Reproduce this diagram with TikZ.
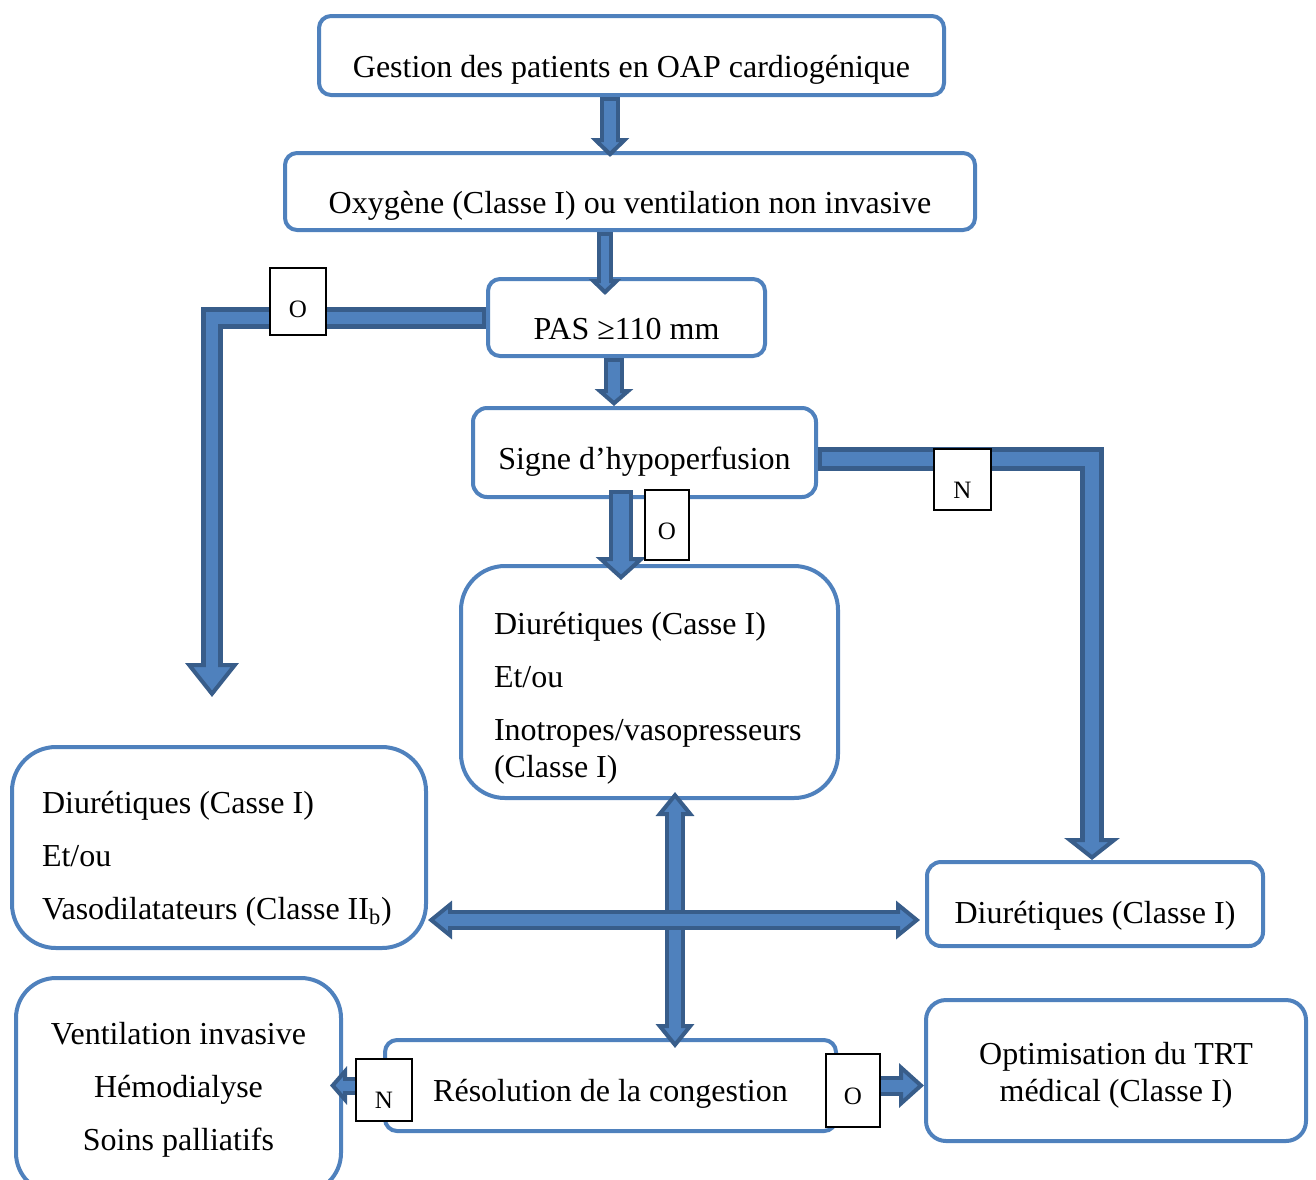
\documentclass[tikz,border=0pt]{standalone}
\usepackage{fontspec}
\setmainfont{Liberation Serif}
\usetikzlibrary{arrows.meta, calc}
\definecolor{boxblue}{HTML}{4F81BD}
\definecolor{arrblue}{HTML}{4F81BD}
\definecolor{arrdark}{HTML}{385D8A}

\begin{document}
\begin{tikzpicture}[x=0.5pt, y=-0.5pt,
  box/.style={draw=boxblue, line width=2pt, fill=white, rounded corners=6pt,
    inner sep=0pt, font=\fontsize{16}{18.5}\selectfont},
  ynbox/.style={draw=black, line width=0.6pt, fill=white, inner sep=0pt,
    font=\fontsize{12.5}{14}\selectfont},
  blk/.style n args={4}{draw=arrdark, line width=2pt, line join=miter,
    -{Triangle[length=#3, width=#4, fill=arrblue]},
    preaction={draw=arrdark, line width=#1, -, shorten >=#3-2pt},
    postaction={draw=arrblue, line width=#2, -, shorten <=2pt, shorten >=#3-2.5pt}},
  blkboth/.style n args={4}{draw=arrdark, line width=2pt, line join=miter,
    {Triangle[length=#3, width=#4, fill=arrblue]}-{Triangle[length=#3, width=#4, fill=arrblue]},
    preaction={draw=arrdark, line width=#1, -, shorten <=#3-2pt, shorten >=#3-2pt},
    postaction={draw=arrblue, line width=#2, -, shorten <=#3-2.5pt, shorten >=#3-2.5pt}},
]
  \useasboundingbox (0,0) rectangle (1316,1179);

  % boxes
  \node[box, minimum width=312.5pt, text height=30.5pt, text depth=9pt] (top) at (631.5,55.5)
    {Gestion des patients en OAP cardiogénique};
  \node[box, minimum width=345pt, text height=30pt, text depth=8.5pt] (oxy) at (630,191.5)
    {Oxygène (Classe I) ou ventilation non invasive};
  \node[box, minimum width=138.5pt, text height=30pt, text depth=8.5pt] (pas) at (626.5,317.5)
    {PAS ≥110 mm};
  \node[box, rounded corners=7pt, minimum width=171.5pt, text height=30.5pt, text depth=14pt] (signe) at (644.5,452.5)
    {Signe d’hypoperfusion};
  \node[box, rounded corners=22pt, minimum width=188.5pt, text width=155.5pt, inner xsep=16.5pt,
    align=flush left, text height=34pt, text depth=82pt] (inotr) at (649.5,682)
    {Diurétiques (Casse I)\\[8pt] Et/ou\\[8pt] Inotropes/vasopresseurs\\ (Classe I)};
  \node[box, rounded corners=22pt, minimum width=207pt, text width=177pt, inner xsep=15pt,
    align=flush left, text height=33pt, text depth=67.5pt] (vaso) at (219,847.5)
    {Diurétiques (Casse I)\\[8pt] Et/ou\\[8pt] Vasodilatateurs (Classe II\textsubscript{b})};
  \node[box, rounded corners=7pt, minimum width=168pt, text height=30.5pt, text depth=11.5pt] (diur) at (1095,904)
    {Diurétiques (Classe I)};
  \node[box, rounded corners=20pt, text width=162.5pt, align=flush center,
    text height=33pt, text depth=74.5pt] (vent) at (178.5,1085.5)
    {Ventilation invasive\\[8pt] Hémodialyse\\[8pt] Soins palliatifs};
  \node[box, minimum width=225.5pt, text height=30.5pt, text depth=15pt] (resol) at (610.5,1085.5)
    {Résolution de la congestion};
  \node[box, rounded corners=10pt, text width=190pt, align=flush center,
    text height=32pt, text depth=38.5pt] (optim) at (1116,1070.5)
    {Optimisation du TRT\\ médical (Classe I)};

  % arrow lines
  \coordinate (c1) at (610,0);
  \coordinate (c2) at (605,0);
  \coordinate (c3) at (614,0);
  \coordinate (c4) at (621,0);
  \coordinate (c6) at (1092,0);
  \coordinate (c7) at (675,0);
  \coordinate (c8) at (0,920);
  \coordinate (gauche) at (212,697);

  \draw[blk={10pt}{6pt}{9.5pt}{19pt}] (c1 |- top.south) -- ($(c1 |- oxy.north)+(0,6)$);
  \draw[blk={8pt}{4pt}{8pt}{16pt}] (c2 |- oxy.south) -- ($(c2 |- pas.north)+(0,18)$);
  \draw[blk={10pt}{6pt}{8.5pt}{19pt}] (c3 |- pas.south) -- (c3 |- signe.north);
  \draw[blk={12pt}{8pt}{11.5pt}{25pt}] ($(c4 |- signe.south)+(0,-9)$) -- ($(c4 |- inotr.north)+(0,16)$);
  \draw[blk={11pt}{6pt}{17pt}{26.5pt}] (pas.west) -| (gauche);
  \draw[blk={12pt}{7pt}{11pt}{27.5pt}] ($(signe.east)+(0,6.5)$) -| (c6 |- diur.north);
  \draw[blkboth={10pt}{6pt}{12pt}{19pt}] ($(c7 |- inotr.south)+(0,-8)$) -- ($(c7 |- resol.north)+(0,10)$);
  \draw[blkboth={10pt}{6pt}{12pt}{19pt}] (c8 -| vaso.east) -- ($(c8 -| diur.west)+(-5,0)$);
  \fill[arrblue] ($(c7 |- c8)+(-6,-6)$) rectangle ($(c7 |- c8)+(6,6)$);
  \draw[blk={9pt}{5pt}{8.5pt}{19pt}] (resol.west) -- ($(resol.west -| vent.east)+(-13,0)$);
  \draw[blk={10pt}{6pt}{12.5pt}{22pt}] (resol.east) -- (resol.east -| optim.west);

  % O / N tags
  \node[ynbox, minimum width=28pt, text height=24.5pt, text depth=9pt] (oui1) at (298,301.5) {O};
  \node[ynbox, minimum width=22pt, text height=24.5pt, text depth=10.5pt] (oui2) at (667,525) {O};
  \node[ynbox, minimum width=28.5pt, text height=24.5pt, text depth=6pt] (non1) at (962.5,479.5) {N};
  \node[ynbox, minimum width=28pt, text height=24.5pt, text depth=6.5pt] (non2) at (384,1090) {N};
  \node[ynbox, minimum width=27pt, text height=25pt, text depth=11.5pt] (oui3) at (853,1090.5) {O};
\end{tikzpicture}
\end{document}
